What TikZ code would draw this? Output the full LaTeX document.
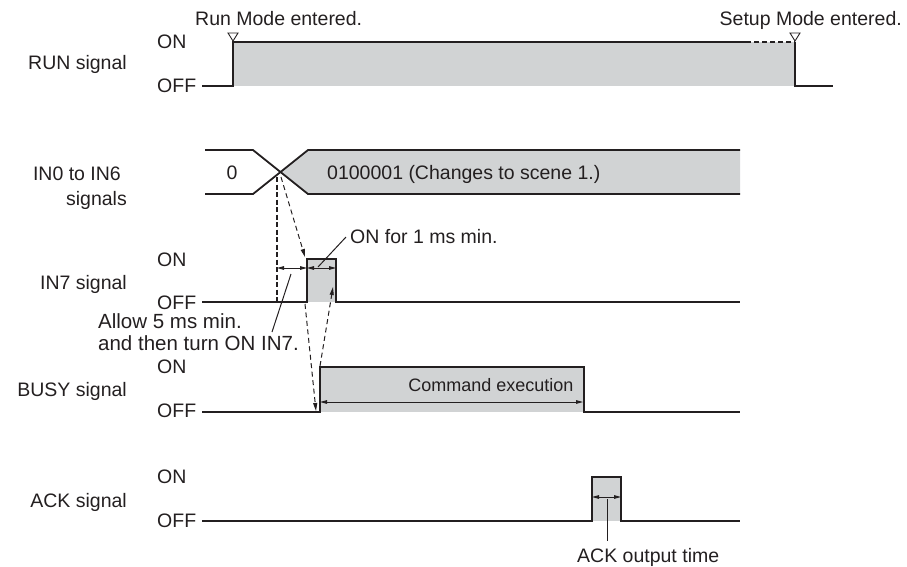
\documentclass[tikz,border=0pt]{standalone}
\usepackage{fontspec}
\setmainfont{Liberation Sans}
\usetikzlibrary{arrows.meta}
\definecolor{sig}{HTML}{D1D3D4}
\definecolor{ink}{HTML}{231F20}
\begin{document}
\begin{tikzpicture}[x=1pt,y=-1pt,
  txt/.style={font=\fontsize{19.5}{22}\selectfont, inner sep=0pt, text=ink},
  lbl/.style={txt, anchor=base east},
  lvl/.style={txt, anchor=base west},
  wave/.style={draw=ink, line width=1.8pt, line join=miter},
  dsh/.style={draw=ink, line width=1pt, dash pattern=on 5pt off 3.5pt, -{Triangle[length=8pt,width=4pt]}},
  dimarrow/.style={draw=ink, line width=0.9pt, {Triangle[length=7pt,width=3.6pt]}-{Triangle[length=7pt,width=3.6pt]}},
  leader/.style={draw=ink, line width=1pt},
  marker/.style={draw=ink, line width=0.9pt, fill=white}]
\useasboundingbox (0,0) rectangle (907,566);

% ---------------- RUN signal ----------------
\node[lbl] (runlbl) at (127,69) {RUN signal};
\node[lvl] (runon) at (157,48) {ON};
\node[lvl] (runoff) at (157,92) {OFF};
\coordinate (r0) at (202,86);
\coordinate (r1) at (233,86);
\coordinate (r2) at (233,42);
\coordinate (r3) at (746,42);
\coordinate (r4) at (795,42);
\coordinate (r5) at (795,86);
\coordinate (r6) at (833,86);
\fill[sig] (r2) rectangle (r5);
\draw[wave] (r0) -- (r1) -- (r2) -- (r3);
\draw[draw=ink, line width=1.6pt, dash pattern=on 5pt off 3pt] (r3) -- (r4);
\draw[wave] (r4) -- (r5) -- (r6);
\draw[marker] (228,33) -- (238,33) -- (233,41) -- cycle;
\draw[marker] (790,33) -- (800,33) -- (795,41) -- cycle;
\node[txt, anchor=base west] (runmode) at (195,25) {Run Mode entered.};
\node[txt, anchor=base east] (setupmode) at (902,25) {Setup Mode entered.};

% ---------------- IN0 to IN6 ----------------
\node[lbl] (inlbl1) at (121,180) {IN0 to IN6};
\node[lbl] (inlbl2) at (127,205) {signals};
\coordinate (b0t) at (205,150);
\coordinate (b0b) at (205,194);
\coordinate (b1t) at (253,150);
\coordinate (b1b) at (253,194);
\coordinate (bx) at (280.5,172);
\coordinate (b2t) at (308,150);
\coordinate (b2b) at (308,194);
\coordinate (b3t) at (740,150);
\coordinate (b3b) at (740,194);
\fill[sig] (bx) -- (b2t) -- (b3t) -- (b3b) -- (b2b) -- cycle;
\draw[wave] (b0t) -- (b1t) -- (b2b) -- (b3b);
\draw[wave] (b0b) -- (b1b) -- (b2t) -- (b3t);
\node[txt, anchor=base] (zero) at (232,179) {0};
\node[txt, anchor=base west] (scene) at (327,179) {0100001 (Changes to scene 1.)};

% ---------------- IN7 signal ----------------
\node[lbl] (in7lbl) at (127,289) {IN7 signal};
\node[lvl] (in7on) at (157,266) {ON};
\node[lvl] (in7off) at (157,309) {OFF};
\coordinate (p0) at (202,302);
\coordinate (p1) at (307,302);
\coordinate (p2) at (307,259);
\coordinate (p3) at (336,259);
\coordinate (p4) at (336,302);
\coordinate (p5) at (740,302);
\fill[sig] (p2) rectangle (p4);
\draw[wave] (p0) -- (p1) -- (p2) -- (p3) -- (p4) -- (p5);
% thick dotted guide
\coordinate (g0) at (277,177);
\coordinate (g1) at (277,302);
\draw[draw=ink, line width=2.8pt, dash pattern=on 5pt off 2.5pt] (g0) -- (g1);
% dimension arrows
\coordinate (d0) at (277,268);
\coordinate (d1) at (307,268);
\coordinate (d2) at (336,268);
\draw[dimarrow] (d0) -- (d1);
\draw[dimarrow] (d1) -- (d2);
% dashed causal arrows
\draw[dsh] (281,177) -- (305,257);
\draw[dsh] (305,304) -- (316,411);
\draw[dsh] (320,366) -- (333,287);
% annotations
\node[txt, anchor=base west] (onfor) at (350,243) {ON for 1 ms min.};
\draw[leader] (346,237) -- (318,267);
\node[txt, anchor=base west, font=\fontsize{20.5}{22}\selectfont] (allow1) at (98,328) {Allow 5 ms min.};
\node[txt, anchor=base west, font=\fontsize{20.5}{22}\selectfont] (allow2) at (98,350) {and then turn ON IN7.};
\draw[leader] (291,274) -- (272,332);

% ---------------- BUSY signal ----------------
\node[lbl] (busylbl) at (127,396) {BUSY signal};
\node[lvl] (busyon) at (157,373) {ON};
\node[lvl] (busyoff) at (157,417) {OFF};
\coordinate (q0) at (202,412);
\coordinate (q1) at (320,412);
\coordinate (q2) at (320,367);
\coordinate (q3) at (584,367);
\coordinate (q4) at (584,412);
\coordinate (q5) at (740,412);
\fill[sig] (q2) rectangle (q4);
\draw[wave] (q0) -- (q1) -- (q2) -- (q3) -- (q4) -- (q5);
\node[txt, anchor=base, font=\fontsize{18}{20}\selectfont] (cmd) at (491,391) {Command execution};
\draw[dimarrow] (320,402) -- (583,402);

% ---------------- ACK signal ----------------
\node[lbl] (acklbl) at (127,507) {ACK signal};
\node[lvl] (ackon) at (157,483) {ON};
\node[lvl] (ackoff) at (157,527) {OFF};
\coordinate (a0) at (202,521);
\coordinate (a1) at (592,521);
\coordinate (a2) at (592,477);
\coordinate (a3) at (621,477);
\coordinate (a4) at (621,521);
\coordinate (a5) at (740,521);
\fill[sig] (a2) rectangle (a4);
\draw[wave] (a0) -- (a1) -- (a2) -- (a3) -- (a4) -- (a5);
\draw[dimarrow] (a2 |- 0,497) -- (a3 |- 0,497);
\coordinate (ackl0) at (607,499);
\coordinate (ackl1) at (607,541);
\draw[leader] (ackl0) -- (ackl1);
\node[txt, anchor=base west] (acktime) at (577,562) {ACK output time};
\end{tikzpicture}
\end{document}
